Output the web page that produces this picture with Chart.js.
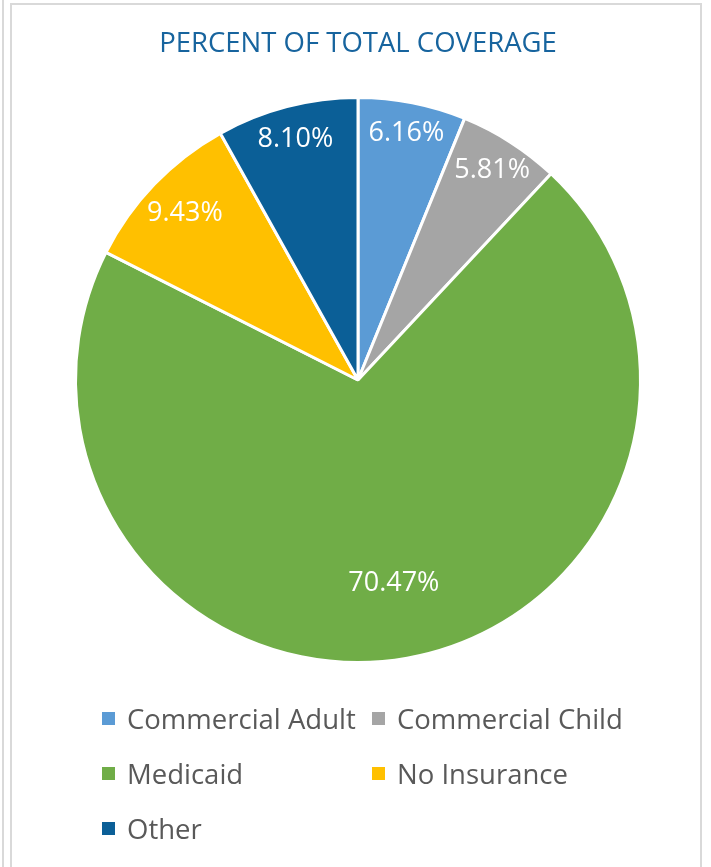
<!DOCTYPE html>
<html>
<head>
<meta charset="utf-8">
<script src="https://cdn.jsdelivr.net/npm/chart.js@4"></script>
<style>
  html, body { margin: 0; padding: 0; background: #fff; }
  #wrap { position: relative; width: 711px; height: 867px; overflow: hidden; }
  #frame { position: absolute; left: 10px; top: 3px; width: 692px; height: 880px;
           border: 2px solid #d9d9d9; border-bottom: none; box-sizing: border-box; }
  #edge { position: absolute; left: 2px; top: 0; width: 2px; height: 867px; background: #d9d9d9; }
  #grafico { position: absolute; left: 0; top: 0; }
  #legenda { position: absolute; left: 102px; top: 702px; display: grid;
             grid-template-columns: 270px 300px; row-gap: 23px;
             font-family: "Open Sans", sans-serif; font-size: 27.5px; color: #595959; }
  #legenda div { display: flex; align-items: center; height: 32px; white-space: nowrap; }
  #legenda span.box { display: inline-block; width: 13px; height: 13px; margin-right: 12px; }
</style>
</head>
<body>
<div id="wrap">
  <div id="edge"></div>
  <div id="frame"></div>
  <canvas id="grafico" width="711" height="867"></canvas>
  <div id="legenda"></div>
</div>
<script>
var categorias = ['Commercial Adult', 'Commercial Child', 'Medicaid', 'No Insurance', 'Other'];
var percentuais = [6.16, 5.81, 70.47, 9.43, 8.10];
var cores = ['#5b9bd5', '#a5a5a5', '#70ad47', '#ffc000', '#0b5f97'];

// legenda em duas colunas, feita em html
var legenda = document.getElementById('legenda');
for (var i = 0; i < categorias.length; i++) {
  var item = document.createElement('div');
  item.innerHTML = '<span class="box" style="background:' + cores[i] + '"></span>' + categorias[i];
  legenda.appendChild(item);
}

// rotulos brancos dentro das fatias
var rotulosFatias = {
  id: 'rotulosFatias',
  afterDatasetsDraw: function (chart) {
    var ctx = chart.ctx;
    var raio = [0.89, 0.88, 0.73, 0.85, 0.88];
    var arcs = chart.getDatasetMeta(0).data;
    ctx.save();
    ctx.font = '27px "Open Sans", sans-serif';
    ctx.fillStyle = '#ffffff';
    ctx.textAlign = 'center';
    ctx.textBaseline = 'middle';
    arcs.forEach(function (arc, i) {
      var p = arc.getProps(['x', 'y', 'startAngle', 'endAngle', 'outerRadius'], true);
      var meio = (p.startAngle + p.endAngle) / 2;
      var r = p.outerRadius * raio[i];
      ctx.fillText(percentuais[i].toFixed(2) + '%', p.x + Math.cos(meio) * r, p.y + Math.sin(meio) * r);
    });
    ctx.restore();
  }
};

var ctx = document.getElementById('grafico').getContext('2d');
var myChart = new Chart(ctx, {
  type: 'pie',
  data: {
    labels: categorias,
    datasets: [{
      data: percentuais,
      backgroundColor: cores,
      borderColor: '#ffffff',
      borderWidth: 3
    }]
  },
  options: {
    responsive: false,
    animation: false,
    layout: {
      padding: { left: 74, right: 69, top: 0, bottom: 203 }
    },
    plugins: {
      legend: { display: false },
      tooltip: { enabled: false },
      title: {
        display: true,
        text: 'PERCENT OF TOTAL COVERAGE',
        color: '#17649e',
        font: { family: '"Open Sans", sans-serif', size: 27.5, weight: 'normal' },
        padding: { top: 27.5, bottom: 35.5 }
      }
    }
  },
  plugins: [rotulosFatias]
});
</script>
</body>
</html>
